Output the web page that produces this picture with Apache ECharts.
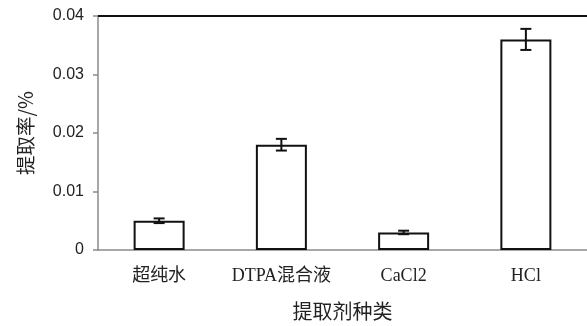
<!DOCTYPE html>
<html>
<head>
<meta charset="utf-8">
<script src="https://cdn.jsdelivr.net/npm/echarts@6/dist/echarts.min.js"></script>
<style>
  html, body { margin: 0; padding: 0; background: #fff; }
  #chart { width: 587px; height: 326px; }
</style>
</head>
<body>
<div id="chart"></div>
<script>
// Extraction agents and their extraction rates (%), with standard errors
const categories = ['超纯水', 'DTPA混合液', 'CaCl2', 'HCl'];
const rates = [0.005, 0.018, 0.003, 0.036];
const errors = [0.0004, 0.001, 0.0003, 0.0018];
const yTicks = [0, 0.01, 0.02, 0.03, 0.04];

const chart = echarts.init(document.getElementById('chart'), null, { renderer: 'canvas' });

const errorData = rates.map((v, i) => [i, v - errors[i], v + errors[i]]);

chart.setOption({
  animation: false,
  backgroundColor: '#ffffff',
  grid: { left: 98, right: -7, top: 16, bottom: 75, containLabel: false },
  xAxis: {
    type: 'category',
    data: categories,
    boundaryGap: true,
    name: '提取剂种类',
    nameLocation: 'middle',
    nameGap: 51,
    nameTextStyle: { fontFamily: '"Noto Sans CJK SC"', fontSize: 20, color: '#222' },
    axisLine: { show: true, lineStyle: { color: '#8a8a8a', width: 1.5 } },
    axisTick: { show: false },
    axisLabel: {
      interval: 0,
      hideOverlap: false,
      margin: 17,
      fontSize: 18,
      color: '#222',
      fontFamily: '"Liberation Serif", "Noto Sans CJK SC"'
    },
    splitLine: { show: false }
  },
  yAxis: {
    type: 'value',
    min: yTicks[0],
    max: yTicks[yTicks.length - 1],
    interval: 0.01,
    name: '提取率/%',
    nameLocation: 'middle',
    nameRotate: 90,
    nameGap: 63,
    nameTextStyle: { fontFamily: '"Noto Sans CJK SC"', fontSize: 19.5, color: '#222' },
    axisLine: { show: true, lineStyle: { color: '#8a8a8a', width: 1.5 } },
    axisTick: { show: true, inside: false, length: 5, lineStyle: { color: '#8a8a8a', width: 1.5 } },
    axisLabel: {
      margin: 14,
      fontSize: 16,
      color: '#222',
      fontFamily: '"Liberation Sans", Arial, sans-serif',
      formatter: v => String(v)
    },
    splitLine: { show: false }
  },
  series: [
    {
      type: 'bar',
      data: rates,
      barWidth: 51,
      itemStyle: { color: '#ffffff', borderColor: '#111', borderWidth: 2 },
      markLine: {
        silent: true,
        symbol: 'none',
        label: { show: false },
        lineStyle: { color: '#111', width: 2, type: 'solid' },
        data: [{ yAxis: yTicks[yTicks.length - 1] }]
      },
      z: 2
    },
    {
      type: 'custom',
      data: errorData,
      z: 3,
      renderItem: function (params, api) {
        const x = api.value(0);
        const lo = api.coord([x, api.value(1)]);
        const hi = api.coord([x, api.value(2)]);
        const half = 5.5;
        const style = { stroke: '#111', lineWidth: 2 };
        return {
          type: 'group',
          children: [
            { type: 'line', shape: { x1: hi[0], y1: hi[1], x2: lo[0], y2: lo[1] }, style },
            { type: 'line', shape: { x1: hi[0] - half, y1: hi[1], x2: hi[0] + half, y2: hi[1] }, style },
            { type: 'line', shape: { x1: lo[0] - half, y1: lo[1], x2: lo[0] + half, y2: lo[1] }, style }
          ]
        };
      }
    }
  ]
});
</script>
</body>
</html>
